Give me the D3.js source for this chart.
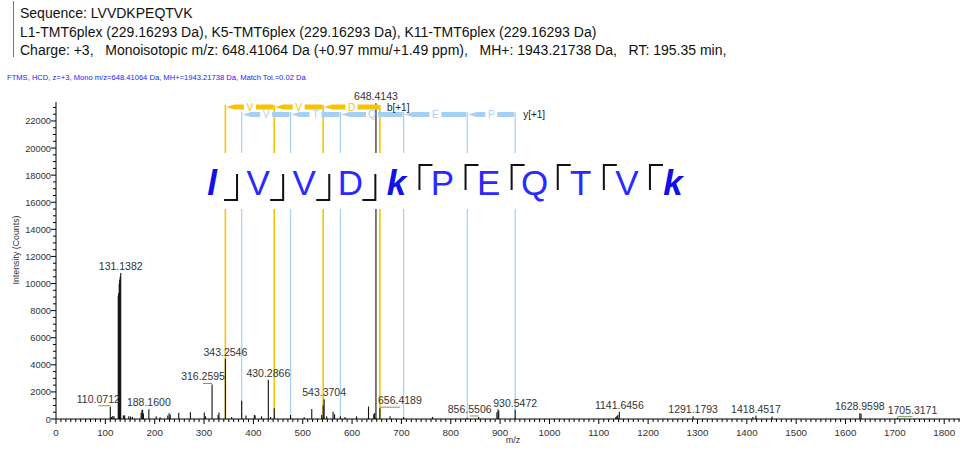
<!DOCTYPE html>
<html><head><meta charset="utf-8">
<script src="https://cdn.jsdelivr.net/npm/d3@7"></script>
<style>
body{margin:0;background:#fff;}
svg{display:block;font-family:"Liberation Sans",Arial,sans-serif;}
text{white-space:pre;}
</style>
</head><body><svg id="c" width="966" height="450"></svg>
<script>
// ---------- DATA ----------
const headerLines = [
  "Sequence: LVVDKPEQTVK",
  "L1-TMT6plex (229.16293 Da), K5-TMT6plex (229.16293 Da), K11-TMT6plex (229.16293 Da)",
  "Charge: +3,   Monoisotopic m/z: 648.41064 Da (+0.97 mmu/+1.49 ppm),   MH+: 1943.21738 Da,   RT: 195.35 min,"
];
const subtitle = "FTMS, HCD, z=+3, Mono m/z=648.41064 Da, MH+=1943.21738 Da, Match Tol.=0.02 Da";

const peakMz = [110.07,112.5,115.1,117.5,126.13,127.12,128.13,129.13,130.14,131.14,136.5,139.0,147.5,151.0,155.0,
  172.5,174.1,175.6,177.2,188.16,203.0,211.0,226.5,229.2,231.5,248.7,272.4,300.5,303.0,316.26,328.5,330.3,343.25,356.0,
  376.28,385.0,402.0,403.5,416.5,430.29,435.0,442.32,475.34,503.0,518.3,538.4,541.39,543.37,548.5,561.5,564.5,576.39,
  585.6,609.0,633.3,643.9,645.7,648.41,656.42,677.0,704.45,763.0,833.5,856.55,893.5,895.8,897.3,930.55,1134.5,1136.6,
  1138.5,1141.65,1291.18,1412.3,1418.45,1451.0,1628.96,1631.5,1705.32];
const peakInt = [900,150,220,200,9100,9300,10000,10300,10500,10780,250,280,200,180,150,
  450,650,680,400,720,200,120,250,430,330,470,490,480,200,2550,300,480,4450,150,
  1350,250,300,250,200,2900,150,800,300,120,740,300,1000,1450,200,540,350,200,
  150,200,920,350,450,23300,800,200,150,150,100,150,500,720,600,680,150,220,
  300,540,200,150,250,180,430,380,100];

const labelText = ["110.0712","131.1382","188.1600","316.2595","343.2546","430.2866","543.3704","648.4143",
  "656.4189","856.5506","930.5472","1141.6456","1291.1793","1418.4517","1628.9598","1705.3171"];

const sequence = ["l","V","V","D","k","P","E","Q","T","V","k"];
const modified = [true,false,false,false,true,false,false,false,false,false,true];

const bIonMz = [343.2546, 442.3230, 541.3914, 656.4184];
const bIonRes = ["V","V","D"];
const yIonMz = [376.2755, 475.3439, 576.3916, 704.4502, 833.4928, 930.5455];
const yIonRes = ["V","T","Q","E","P"];

const xTicks = d3.range(0, 1801, 100);
const yTicks = d3.range(0, 22001, 2000);

// ---------- LAYOUT ----------
const svg = d3.select("#c");
const X0 = 56, X1 = 960, Y0 = 419, YT = 102;
const x = d3.scaleLinear().domain([0, 1832]).range([X0, X1]);
const y = d3.scaleLinear().domain([0, 23400]).range([Y0, YT]);
const YELLOW = "#f7c300", BLUE = "#a6cff5";

// header
svg.append("line").attr("x1",13.5).attr("x2",13.5).attr("y1",1).attr("y2",57).attr("stroke","#777");
headerLines.forEach((t,i)=>{
  svg.append("text").attr("x",20).attr("y",18+i*18.7).attr("font-size",14).attr("fill","#111").text(t);
});
svg.append("text").attr("x",7).attr("y",80).attr("font-size",7.6).attr("fill","#1a1aff").text(subtitle);

// ion lines
const gIon = svg.append("g");
bIonMz.forEach(m=>{
  gIon.append("line").attr("x1",x(m)).attr("x2",x(m)).attr("y1",105).attr("y2",Y0)
    .attr("stroke",YELLOW).attr("stroke-width",1.6);
});
yIonMz.forEach(m=>{
  gIon.append("line").attr("x1",x(m)).attr("x2",x(m)).attr("y1",112).attr("y2",Y0)
    .attr("stroke",BLUE).attr("stroke-width",1.2);
});

// peaks
const gP = svg.append("g");
peakMz.forEach((m,i)=>{
  gP.append("line").attr("x1",x(m)).attr("x2",x(m)).attr("y1",Y0).attr("y2",y(peakInt[i]))
    .attr("stroke","#111").attr("stroke-width",1.1);
});

// ladder
function ladder(mzs, res, yy, color){
  const g = svg.append("g");
  for(let i=0;i<res.length;i++){
    const a = x(mzs[i]), b = x(mzs[i+1]), mid=(a+b)/2, h=2.5;
    g.append("path").attr("d",`M${a+1},${yy} L${a+9},${yy-h} L${mid-6},${yy-h} L${mid-6},${yy+h} L${a+9},${yy+h} Z`).attr("fill",color);
    g.append("rect").attr("x",mid+6).attr("y",yy-h).attr("width",b-1-mid-6).attr("height",2*h).attr("fill",color);
    g.append("text").attr("x",mid).attr("y",yy+3.5).attr("text-anchor","middle").attr("font-size",10)
      .attr("fill",color).text(res[i]);
  }
}
ladder(bIonMz, bIonRes, 107, YELLOW);
ladder(yIonMz, yIonRes, 114.5, BLUE);
svg.append("text").attr("x",x(bIonMz[bIonMz.length-1])+7).attr("y",111).attr("font-size",10).attr("fill","#222").text("b[+1]");
svg.append("text").attr("x",x(yIonMz[yIonMz.length-1])+8).attr("y",118).attr("font-size",10).attr("fill","#222").text("y[+1]");

// sequence band
svg.append("rect").attr("x",190).attr("y",153).attr("width",505).attr("height",56).attr("fill","#fff");
const xs = d3.scaleLinear().domain([0,10]).range([212,673]);
sequence.forEach((s,i)=>{
  svg.append("text").attr("x",xs(i)).attr("y",195).attr("text-anchor","middle")
    .attr("font-size",35).attr("font-weight",modified[i]?"bold":"normal")
    .attr("font-style",modified[i]?"italic":"normal")
    .attr("fill",modified[i]?"#1010e8":"#2a2aff").text(s);
});
for(let i=0;i<bIonRes.length+1;i++){
  const xv = xs(i+0.5)+2;
  svg.append("path").attr("d",`M${xv-13},200 L${xv},200 L${xv},174`).attr("fill","none").attr("stroke","#111").attr("stroke-width",2);
}
for(let j=0;j<yIonRes.length+1;j++){
  const xv = xs(4.5+j);
  svg.append("path").attr("d",`M${xv},190 L${xv},165 L${xv+13},165`).attr("fill","none").attr("stroke","#111").attr("stroke-width",2);
}

// axes
const gx = svg.append("g").attr("transform",`translate(0,${Y0})`);
gx.append("line").attr("x1",X0).attr("x2",X1).attr("stroke","#000");
d3.range(0,1831,10).forEach(v=>{
  const major = v%100===0;
  gx.append("line").attr("x1",x(v)).attr("x2",x(v)).attr("y1",0).attr("y2",major?5:3).attr("stroke","#000");
});
xTicks.forEach(v=>{
  gx.append("text").attr("x",x(v)).attr("y",17).attr("text-anchor","middle").attr("font-size",9.8).attr("fill","#333").text(v);
});
svg.append("text").attr("x",513).attr("y",443).attr("text-anchor","middle").attr("font-size",9).attr("fill","#333").text("m/z");

const gy = svg.append("g").attr("transform",`translate(${X0},0)`);
gy.append("line").attr("y1",Y0).attr("y2",YT).attr("stroke","#000");
d3.range(0,23001,500).forEach(v=>{
  const major = v%2000===0;
  gy.append("line").attr("x1",major?-5:-3).attr("x2",0).attr("y1",y(v)).attr("y2",y(v)).attr("stroke","#000");
});
yTicks.forEach(v=>{
  gy.append("text").attr("x",-5).attr("y",y(v)+3.5).attr("text-anchor","end").attr("font-size",9.3).attr("fill","#333").text(v);
});
svg.append("text").attr("transform","translate(19,250) rotate(-90)").attr("text-anchor","middle").attr("font-size",8.8).attr("fill","#333").text("Intensity (Counts)");

// peak labels
const shifted = {"110.0712":-12,"316.2595":-9,"656.4189":20,"856.5506":-9,"1705.3171":15};
labelText.forEach(t=>{
  const m = +t;
  let best = 0;
  peakMz.forEach((pm,i)=>{ if(Math.abs(pm-m)<Math.abs(peakMz[best]-m)) best=i; });
  const px = x(m), py = y(peakInt[best]);
  const dx = shifted[t] || 0;
  const ly = dx ? py-4 : py-3;
  svg.append("text").attr("x",px+dx).attr("y",ly).attr("text-anchor","middle").attr("font-size",10.5).attr("fill","#333").text(t);
  if(dx){
    svg.append("line").attr("x1",px).attr("x2",px+dx).attr("y1",py-1).attr("y2",py-1).attr("stroke","#7a9a55").attr("stroke-width",1);
  }
});
</script></body></html>
